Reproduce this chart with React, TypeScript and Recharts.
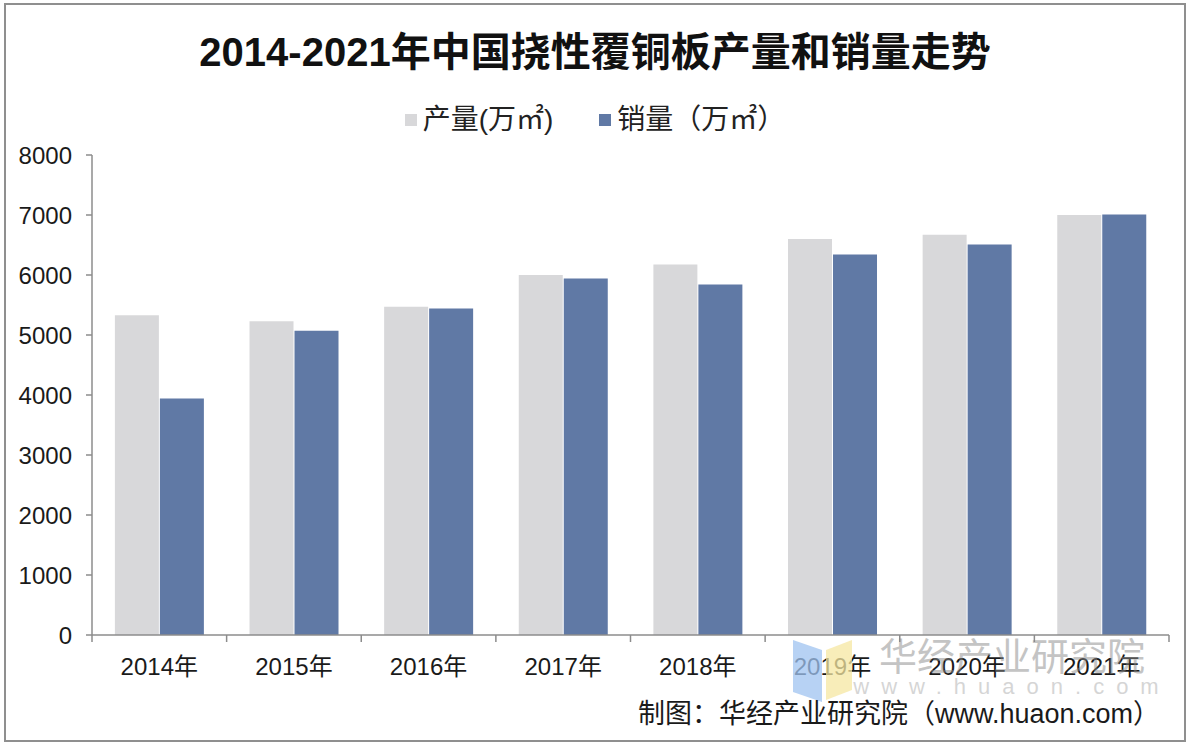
import { BarChart, Bar, XAxis, YAxis } from 'recharts'

const years = ['2014年', '2015年', '2016年', '2017年', '2018年', '2019年', '2020年', '2021年']
const production = [5330, 5230, 5470, 6000, 6175, 6600, 6670, 7000]
const sales = [3940, 5070, 5440, 5940, 5840, 6340, 6510, 7010]
const yTicks = [0, 1000, 2000, 3000, 4000, 5000, 6000, 7000, 8000]

const data = years.map((y, i) => ({ year: y, 产量: production[i], 销量: sales[i] }))

const FONT = '"Liberation Sans", Arial, "Noto Sans CJK SC", sans-serif'
const AXIS = '#8c8c8c'
const GRAY = '#d8d8da'
const BLUE = '#6079a5'

function XTick({ x, y, payload, index }: any) {
  const half = payload?.offset ?? 67.3
  const top = y - 7
  return (
    <g>
      <line x1={x - half} x2={x - half} y1={top} y2={y} stroke={AXIS} strokeWidth={1.5} />
      {index === years.length - 1 && (
        <line x1={x + half} x2={x + half} y1={top} y2={y} stroke={AXIS} strokeWidth={1.5} />
      )}
      <text x={x} y={y + 33} textAnchor="middle" fill="#1a1a1a" fontSize={24} fontFamily={FONT}>
        {payload.value}
      </text>
    </g>
  )
}

export default function App() {
  return (
    <div style={{ position: 'absolute', left: 0, top: 0, width: 1190, height: 748, background: '#fff', fontFamily: FONT }}>
      <div style={{ position: 'absolute', left: 4, top: 3, width: 1178, height: 735, border: '2px solid #8f8f8f' }} />
      <div style={{ position: 'absolute', left: 0, top: 24, width: 1190, textAlign: 'center', fontSize: 40, fontWeight: 700, color: '#111', lineHeight: '56px' }}>
        2014-2021年中国挠性覆铜板产量和销量走势
      </div>
      <div style={{ position: 'absolute', left: 0, top: 101, width: 1190, display: 'flex', justifyContent: 'center', gap: 46, fontSize: 28, color: '#222', lineHeight: '38px' }}>
        <div style={{ display: 'flex', alignItems: 'center', gap: 6 }}>
          <span style={{ width: 12, height: 12, background: GRAY, display: 'inline-block' }} />
          <span>产量(万㎡)</span>
        </div>
        <div style={{ display: 'flex', alignItems: 'center', gap: 6 }}>
          <span style={{ width: 12, height: 12, background: BLUE, display: 'inline-block' }} />
          <span>销量（万㎡）</span>
        </div>
      </div>
      <div style={{ position: 'absolute', left: 0, top: 0 }}>
        <BarChart
          width={1190}
          height={748}
          data={data}
          margin={{ top: 155, right: 21, left: 0, bottom: 0 }}
          barCategoryGap="17%"
          barGap={1}
        >
          <XAxis
            dataKey="year"
            axisLine={{ stroke: AXIS, strokeWidth: 1.5 }}
            tickLine={false}
            tickSize={7}
            tickMargin={0}
            tick={<XTick />}
            interval={0}
            height={113}
          />
          <YAxis
            domain={[0, 8000]}
            ticks={yTicks}
            width={92}
            axisLine={{ stroke: AXIS, strokeWidth: 1.5 }}
            tickLine={{ stroke: AXIS, strokeWidth: 1.5 }}
            tickSize={6}
            tickMargin={14}
            tick={{ fill: '#1a1a1a', fontSize: 24, fontFamily: FONT }}
          />
          <Bar dataKey="产量" fill={GRAY} isAnimationActive={false} />
          <Bar dataKey="销量" fill={BLUE} isAnimationActive={false} />
        </BarChart>
      </div>
      <svg width={1190} height={748} style={{ position: 'absolute', left: 0, top: 0, pointerEvents: 'none' }}>
        <polygon points="793,640 822,650 822,702 793,692" fill="#9fc3f0" opacity={0.75} />
        <polygon points="826,650 852,640 852,690 826,700" fill="#f6e7a2" opacity={0.75} />
        <text x={1012} y={670} textAnchor="middle" fontSize={38} fill="#8a8a8a" opacity={0.5} fontFamily={FONT}>
          华经产业研究院
        </text>
        <text x={1012} y={694} textAnchor="middle" fontSize={22} letterSpacing={12} fill="#8a8a8a" opacity={0.35} fontFamily={FONT}>
          www.huaon.com
        </text>
        <text x={1160} y={723} textAnchor="end" fontSize={27} fill="#1a1a1a" fontFamily={FONT}>
          制图：华经产业研究院（www.huaon.com）
        </text>
      </svg>
    </div>
  )
}
